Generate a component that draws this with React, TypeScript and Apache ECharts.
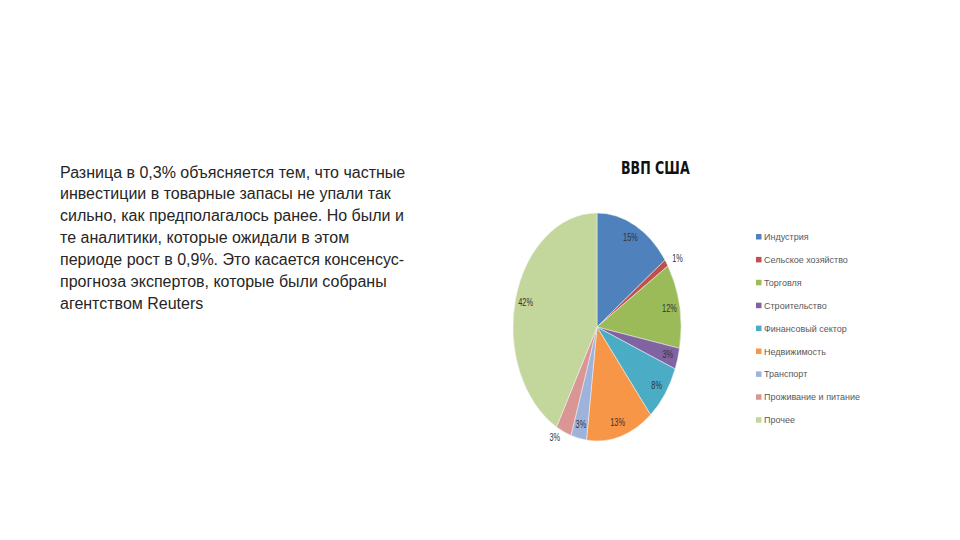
import React, { useEffect, useRef } from "react";
import * as echarts from "echarts";

const categories = [
  "Индустрия",
  "Сельское хозяйство",
  "Торговля",
  "Строительство",
  "Финансовый сектор",
  "Недвижимость",
  "Транспорт",
  "Проживание и питание",
  "Прочее",
];
const values = [15, 1, 12, 3, 8, 13, 3, 3, 42];
const colors = ["#4F81BD", "#C0504D", "#9BBB59", "#8064A2", "#4BACC6", "#F79646", "#9DB3DB", "#D99694", "#C3D69B"];
const outsideLabels = ["Сельское хозяйство", "Проживание и питание"];
const title = "ВВП США";
const paragraph = [
  "Разница в 0,3% объясняется тем, что частные",
  "инвестиции в товарные запасы не упали так",
  "сильно, как предполагалось ранее. Но были и",
  "те аналитики, которые ожидали в этом",
  "периоде рост в 0,9%. Это касается консенсус-",
  "прогноза экспертов, которые были собраны",
  "агентством Reuters",
];

export default function App() {
  const mainRef = useRef<HTMLDivElement>(null);
  const pieRef = useRef<HTMLDivElement>(null);

  useEffect(() => {
    const main = echarts.init(mainRef.current!, undefined, { renderer: "svg" });
    const pie = echarts.init(pieRef.current!, undefined, { renderer: "svg" });

    const graphics: any[] = [];
    paragraph.forEach((line, i) => {
      graphics.push({
        type: "text",
        left: 60,
        top: 164 + i * 21.9,
        style: { text: line, fill: "#262626", font: '16px "Liberation Sans"' },
      });
    });
    graphics.push({
      type: "text",
      x: 621,
      y: 168,
      scaleX: 0.72,
      style: {
        text: title,
        fill: "#111111",
        font: 'bold 17.5px "DejaVu Sans"',
        textVerticalAlign: "middle",
      },
    });
    categories.forEach((c, i) => {
      const y = 237 + i * 22.9;
      graphics.push({
        type: "rect",
        shape: { x: 756, y: y - 3, width: 5.5, height: 5.5 },
        style: { fill: colors[i] },
      });
      graphics.push({
        type: "text",
        x: 764,
        y: y,
        style: { text: c, fill: "#595959", font: '9px "Liberation Sans"', textVerticalAlign: "middle" },
      });
    });

    main.setOption({
      animation: false,
      backgroundColor: "#ffffff",
      graphic: graphics,
    });

    const data = categories.map((c, i) => ({ name: c, value: values[i], itemStyle: { color: colors[i] } }));
    const labelData = categories.map((c, i) => {
      const out = outsideLabels.includes(c);
      return {
        name: c,
        value: values[i],
        label: out ? { position: "outside", distanceToLabelLine: 2 } : { position: "inside" },
      };
    });

    pie.setOption({
      animation: false,
      series: [
        {
          type: "pie",
          radius: [0, 114],
          center: ["50%", "50%"],
          startAngle: 90,
          clockwise: true,
          silent: true,
          data,
          label: { show: false },
          labelLine: { show: false },
          itemStyle: { borderColor: "#f4f4f4", borderWidth: 0.6 },
        },
        {
          type: "pie",
          radius: [82, 112],
          center: ["50%", "50%"],
          startAngle: 90,
          clockwise: true,
          silent: true,
          data: labelData,
          itemStyle: { color: "rgba(0,0,0,0)" },
          label: {
            show: true,
            formatter: "{d}%",
            fontSize: 10,
            fontFamily: "Liberation Sans",
            color: "#333333",
            overflow: "none",
          },
          labelLine: { show: false, length: 9, length2: 0 },
        },
      ],
    });

    return () => {
      main.dispose();
      pie.dispose();
    };
  }, []);

  return (
    <div style={{ position: "absolute", left: 0, top: 0, width: 960, height: 540, background: "#fff" }}>
      <div ref={mainRef} style={{ position: "absolute", left: 0, top: 0, width: 960, height: 540 }} />
      <div
        ref={pieRef}
        style={{
          position: "absolute",
          left: 447,
          top: 177,
          width: 300,
          height: 300,
          transform: "scaleX(0.737)",
          transformOrigin: "50% 50%",
        }}
      />
    </div>
  );
}
